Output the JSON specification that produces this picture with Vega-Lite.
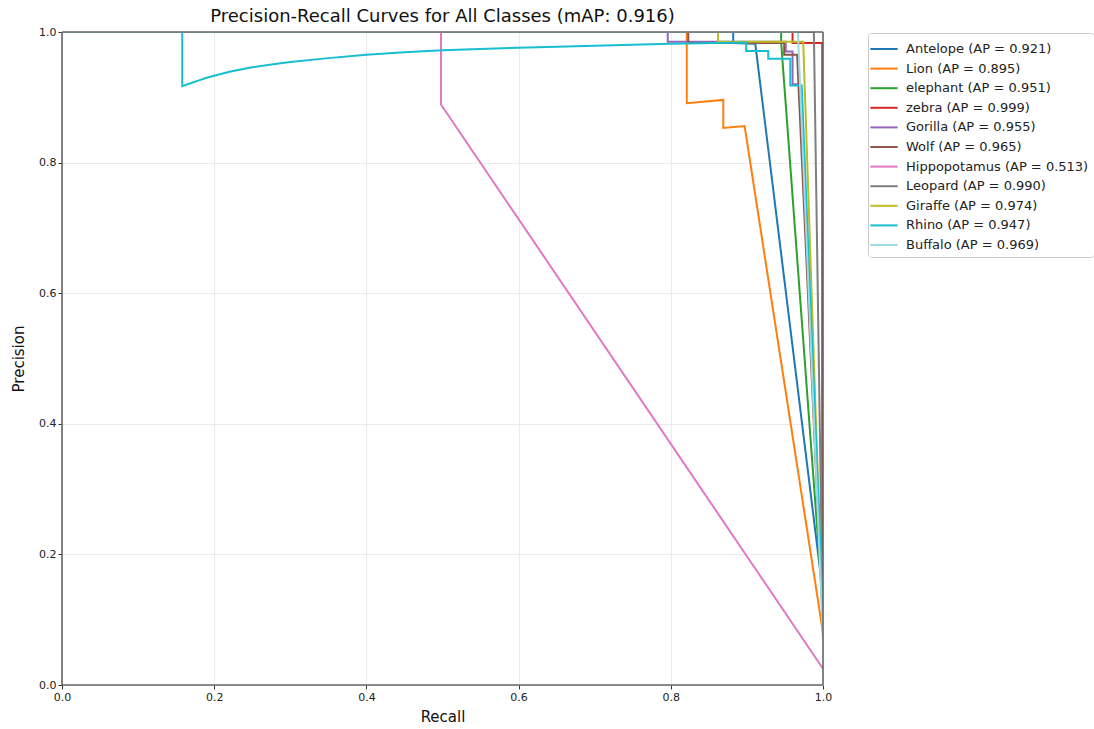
{
  "$schema": "https://vega.github.io/schema/vega-lite/v6.json",
  "width": 761,
  "height": 653,
  "autosize": "none",
  "padding": {"left": 62, "top": 32, "right": 271, "bottom": 44},
  "background": "white",
  "config": {
    "font": "DejaVu Sans",
    "view": {"stroke": null},
    "axis": {"domain": false, "grid": true, "gridColor": "#ebebeb", "gridWidth": 1, "tickColor": "#333333", "tickSize": 4, "labelFontSize": 11, "labelColor": "#222222", "titleFontSize": 15, "titleFontWeight": "normal", "titleColor": "#111111", "labelFont": "DejaVu Sans", "titleFont": "DejaVu Sans", "labelFlush": false}
  },
  "title": {"text": "Precision-Recall Curves for All Classes (mAP: 0.916)", "fontSize": 18, "fontWeight": "normal", "font": "DejaVu Sans", "color": "#111111", "anchor": "middle", "offset": 0},
  "data": {
    "values": [
      {"cls": "Antelope (AP = 0.921)", "i": 0, "recall": 0, "precision": 1},
      {"cls": "Antelope (AP = 0.921)", "i": 1, "recall": 0.882, "precision": 1},
      {"cls": "Antelope (AP = 0.921)", "i": 2, "recall": 0.882, "precision": 0.983},
      {"cls": "Antelope (AP = 0.921)", "i": 3, "recall": 0.911, "precision": 0.982},
      {"cls": "Antelope (AP = 0.921)", "i": 4, "recall": 1, "precision": 0.14},

      {"cls": "Lion (AP = 0.895)", "i": 0, "recall": 0, "precision": 1},
      {"cls": "Lion (AP = 0.895)", "i": 1, "recall": 0.821, "precision": 1},
      {"cls": "Lion (AP = 0.895)", "i": 2, "recall": 0.821, "precision": 0.891},
      {"cls": "Lion (AP = 0.895)", "i": 3, "recall": 0.869, "precision": 0.896},
      {"cls": "Lion (AP = 0.895)", "i": 4, "recall": 0.869, "precision": 0.853},
      {"cls": "Lion (AP = 0.895)", "i": 5, "recall": 0.897, "precision": 0.856},
      {"cls": "Lion (AP = 0.895)", "i": 6, "recall": 1, "precision": 0.08},

      {"cls": "elephant (AP = 0.951)", "i": 0, "recall": 0, "precision": 1},
      {"cls": "elephant (AP = 0.951)", "i": 1, "recall": 0.945, "precision": 1},
      {"cls": "elephant (AP = 0.951)", "i": 2, "recall": 0.945, "precision": 0.984},
      {"cls": "elephant (AP = 0.951)", "i": 3, "recall": 1, "precision": 0.12},

      {"cls": "zebra (AP = 0.999)", "i": 0, "recall": 0, "precision": 1},
      {"cls": "zebra (AP = 0.999)", "i": 1, "recall": 0.96, "precision": 1},
      {"cls": "zebra (AP = 0.999)", "i": 2, "recall": 0.96, "precision": 0.983},
      {"cls": "zebra (AP = 0.999)", "i": 3, "recall": 0.999, "precision": 0.983},
      {"cls": "zebra (AP = 0.999)", "i": 4, "recall": 0.999, "precision": 0.09},

      {"cls": "Gorilla (AP = 0.955)", "i": 0, "recall": 0, "precision": 1},
      {"cls": "Gorilla (AP = 0.955)", "i": 1, "recall": 0.796, "precision": 1},
      {"cls": "Gorilla (AP = 0.955)", "i": 2, "recall": 0.796, "precision": 0.985},
      {"cls": "Gorilla (AP = 0.955)", "i": 3, "recall": 0.951, "precision": 0.985},
      {"cls": "Gorilla (AP = 0.955)", "i": 4, "recall": 0.951, "precision": 0.97},
      {"cls": "Gorilla (AP = 0.955)", "i": 5, "recall": 0.96, "precision": 0.97},
      {"cls": "Gorilla (AP = 0.955)", "i": 6, "recall": 0.96, "precision": 0.92},
      {"cls": "Gorilla (AP = 0.955)", "i": 7, "recall": 0.97, "precision": 0.92},
      {"cls": "Gorilla (AP = 0.955)", "i": 8, "recall": 1, "precision": 0.1},

      {"cls": "Wolf (AP = 0.965)", "i": 0, "recall": 0, "precision": 1},
      {"cls": "Wolf (AP = 0.965)", "i": 1, "recall": 0.823, "precision": 1},
      {"cls": "Wolf (AP = 0.965)", "i": 2, "recall": 0.823, "precision": 0.983},
      {"cls": "Wolf (AP = 0.965)", "i": 3, "recall": 0.949, "precision": 0.983},
      {"cls": "Wolf (AP = 0.965)", "i": 4, "recall": 0.949, "precision": 0.965},
      {"cls": "Wolf (AP = 0.965)", "i": 5, "recall": 0.966, "precision": 0.965},
      {"cls": "Wolf (AP = 0.965)", "i": 6, "recall": 1, "precision": 0.09},

      {"cls": "Hippopotamus (AP = 0.513)", "i": 0, "recall": 0, "precision": 1},
      {"cls": "Hippopotamus (AP = 0.513)", "i": 1, "recall": 0.498, "precision": 1},
      {"cls": "Hippopotamus (AP = 0.513)", "i": 2, "recall": 0.498, "precision": 0.889},
      {"cls": "Hippopotamus (AP = 0.513)", "i": 3, "recall": 1, "precision": 0.025},

      {"cls": "Leopard (AP = 0.990)", "i": 0, "recall": 0, "precision": 1},
      {"cls": "Leopard (AP = 0.990)", "i": 1, "recall": 0.988, "precision": 1},
      {"cls": "Leopard (AP = 0.990)", "i": 2, "recall": 1, "precision": 0.07},

      {"cls": "Giraffe (AP = 0.974)", "i": 0, "recall": 0, "precision": 1},
      {"cls": "Giraffe (AP = 0.974)", "i": 1, "recall": 0.862, "precision": 1},
      {"cls": "Giraffe (AP = 0.974)", "i": 2, "recall": 0.862, "precision": 0.985},
      {"cls": "Giraffe (AP = 0.974)", "i": 3, "recall": 0.974, "precision": 0.985},
      {"cls": "Giraffe (AP = 0.974)", "i": 4, "recall": 1, "precision": 0.08},

      {"cls": "Rhino (AP = 0.947)", "i": 0, "recall": 0, "precision": 1},
      {"cls": "Rhino (AP = 0.947)", "i": 1, "recall": 0.158, "precision": 1},
      {"cls": "Rhino (AP = 0.947)", "i": 2, "recall": 0.158, "precision": 0.917},
      {"cls": "Rhino (AP = 0.947)", "i": 3, "recall": 0.17, "precision": 0.922},
      {"cls": "Rhino (AP = 0.947)", "i": 4, "recall": 0.18, "precision": 0.926},
      {"cls": "Rhino (AP = 0.947)", "i": 5, "recall": 0.19, "precision": 0.93},
      {"cls": "Rhino (AP = 0.947)", "i": 6, "recall": 0.2, "precision": 0.933},
      {"cls": "Rhino (AP = 0.947)", "i": 7, "recall": 0.22, "precision": 0.939},
      {"cls": "Rhino (AP = 0.947)", "i": 8, "recall": 0.25, "precision": 0.946},
      {"cls": "Rhino (AP = 0.947)", "i": 9, "recall": 0.28, "precision": 0.951},
      {"cls": "Rhino (AP = 0.947)", "i": 10, "recall": 0.3, "precision": 0.954},
      {"cls": "Rhino (AP = 0.947)", "i": 11, "recall": 0.35, "precision": 0.96},
      {"cls": "Rhino (AP = 0.947)", "i": 12, "recall": 0.4, "precision": 0.965},
      {"cls": "Rhino (AP = 0.947)", "i": 13, "recall": 0.45, "precision": 0.969},
      {"cls": "Rhino (AP = 0.947)", "i": 14, "recall": 0.5, "precision": 0.972},
      {"cls": "Rhino (AP = 0.947)", "i": 15, "recall": 0.6, "precision": 0.976},
      {"cls": "Rhino (AP = 0.947)", "i": 16, "recall": 0.7, "precision": 0.979},
      {"cls": "Rhino (AP = 0.947)", "i": 17, "recall": 0.8, "precision": 0.982},
      {"cls": "Rhino (AP = 0.947)", "i": 18, "recall": 0.899, "precision": 0.984},
      {"cls": "Rhino (AP = 0.947)", "i": 19, "recall": 0.899, "precision": 0.971},
      {"cls": "Rhino (AP = 0.947)", "i": 20, "recall": 0.928, "precision": 0.971},
      {"cls": "Rhino (AP = 0.947)", "i": 21, "recall": 0.928, "precision": 0.959},
      {"cls": "Rhino (AP = 0.947)", "i": 22, "recall": 0.957, "precision": 0.959},
      {"cls": "Rhino (AP = 0.947)", "i": 23, "recall": 0.957, "precision": 0.918},
      {"cls": "Rhino (AP = 0.947)", "i": 24, "recall": 0.972, "precision": 0.918},
      {"cls": "Rhino (AP = 0.947)", "i": 25, "recall": 1, "precision": 0.11},

      {"cls": "Buffalo (AP = 0.969)", "i": 0, "recall": 0, "precision": 1},
      {"cls": "Buffalo (AP = 0.969)", "i": 1, "recall": 0.967, "precision": 1},
      {"cls": "Buffalo (AP = 0.969)", "i": 2, "recall": 1, "precision": 0.07}
    ]
  },
  "layer": [
    {
      "mark": {"type": "line", "strokeWidth": 2, "clip": true},
      "encoding": {
        "x": {"field": "recall", "type": "quantitative", "title": "Recall", "scale": {"domain": [0, 1], "nice": false, "zero": false}, "axis": {"values": [0, 0.2, 0.4, 0.6, 0.8, 1], "format": ".1f", "titlePadding": 7}},
        "y": {"field": "precision", "type": "quantitative", "title": "Precision", "scale": {"domain": [0, 1], "nice": false}, "axis": {"values": [0, 0.2, 0.4, 0.6, 0.8, 1], "format": ".1f", "titlePadding": 12}},
        "order": {"field": "i", "type": "quantitative"},
        "color": {
          "field": "cls", "type": "nominal", "sort": null,
          "scale": {
            "domain": ["Antelope (AP = 0.921)", "Lion (AP = 0.895)", "elephant (AP = 0.951)", "zebra (AP = 0.999)", "Gorilla (AP = 0.955)", "Wolf (AP = 0.965)", "Hippopotamus (AP = 0.513)", "Leopard (AP = 0.990)", "Giraffe (AP = 0.974)", "Rhino (AP = 0.947)", "Buffalo (AP = 0.969)"],
            "range": ["#1f77b4", "#ff7f0e", "#2ca02c", "#d62728", "#9467bd", "#8c564b", "#e377c2", "#7f7f7f", "#bcbd22", "#17becf", "#9edae5"]
          },
          "legend": {"title": null, "orient": "none", "legendX": 806, "legendY": 1, "symbolType": "M-1.4,0H1.4", "symbolSize": 380, "symbolStrokeWidth": 2, "labelFontSize": 13, "labelFont": "DejaVu Sans", "labelColor": "#222222", "rowPadding": 1.6, "padding": 5, "strokeColor": "#cccccc", "fillColor": "white", "cornerRadius": 3, "labelOffset": 11, "labelLimit": 300}
        }
      }
    },
    {
      "data": {"values": [{"edge": 0}, {"edge": 1}]},
      "mark": {"type": "rule", "color": "#666666", "strokeWidth": 1.6},
      "encoding": {"y": {"field": "edge", "type": "quantitative"}}
    },
    {
      "data": {"values": [{"edge": 0}, {"edge": 1}]},
      "mark": {"type": "rule", "color": "#666666", "strokeWidth": 1.6},
      "encoding": {"x": {"field": "edge", "type": "quantitative"}}
    }
  ]
}
